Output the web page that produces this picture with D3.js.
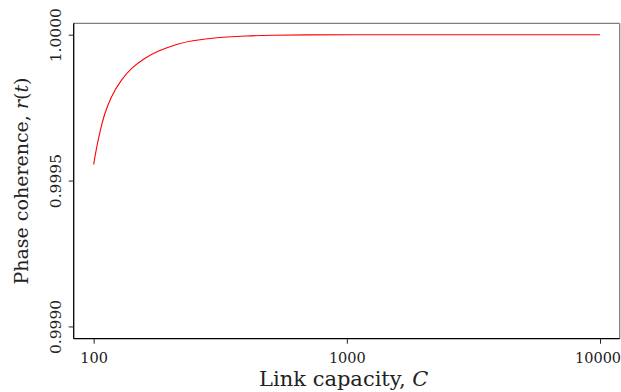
<!DOCTYPE html>
<html>
<head>
<meta charset="utf-8">
<script src="https://cdn.jsdelivr.net/npm/d3@7"></script>
<style>
  body { margin: 0; background: #fff; }
  svg { display: block; font-family: "DejaVu Serif", serif; }
</style>
</head>
<body>
<div id="chart"></div>
<script>
// values
var capacity  = [100, 102, 106, 110, 117, 129, 141, 159, 180, 215, 240, 316, 400, 500, 700, 1000, 2000, 5000, 10000];
var coherence = [0.999555, 0.999600, 0.999670, 0.999725, 0.999788, 0.999848, 0.999886, 0.999920,
                 0.999945, 0.999969, 0.999979, 0.9999915, 0.999996, 0.999998, 0.9999995,
                 1.0, 1.0, 1.0, 1.0];
var xTicks = [100, 1000, 10000];
var yTicks = [0.9990, 0.9995, 1.0000];

var width = 621, height = 392;
var plot = { left: 73.7, right: 619.7, top: 23.3, bottom: 338.7 };

var svg = d3.select("#chart")
    .append("svg")
    .attr("width", width)
    .attr("height", height);

var x = d3.scaleLog()
    .domain([83.4, 11960])
    .range([plot.left, plot.right]);

var y = d3.scaleLinear()
    .domain([0.998958, 1.000039])
    .range([plot.bottom, plot.top]);

var data = capacity.map(function(c, i) {
    return { c: c, r: coherence[i] };
});

// frame: top and right spines grey
svg.append("line")
    .attr("x1", plot.left).attr("x2", plot.right)
    .attr("y1", plot.top).attr("y2", plot.top)
    .attr("stroke", "#7f7f7f").attr("stroke-width", 1.3);
svg.append("line")
    .attr("x1", plot.right).attr("x2", plot.right)
    .attr("y1", plot.top).attr("y2", plot.bottom)
    .attr("stroke", "#7f7f7f").attr("stroke-width", 1.3);

// x axis
var xAxis = svg.append("g")
    .attr("transform", "translate(0," + plot.bottom + ")")
    .call(d3.axisBottom(x)
        .tickValues(xTicks)
        .tickFormat(d3.format("d"))
        .tickSize(5)
        .tickPadding(9));
xAxis.select(".domain").attr("stroke", "#000").attr("stroke-width", 1.3)
    .attr("d", "M" + plot.left + ",0H" + plot.right);
xAxis.selectAll(".tick line").attr("stroke", "#222");
xAxis.selectAll(".tick text")
    .attr("font-family", "DejaVu Serif")
    .attr("font-size", 14.5)
    .attr("fill", "#222")
    .attr("dx", function(d) { return d === 10000 ? -2.5 : 0; });

// y axis
var yAxis = svg.append("g")
    .attr("transform", "translate(" + plot.left + ",0)")
    .call(d3.axisLeft(y)
        .tickValues(yTicks)
        .tickFormat(d3.format(".4f"))
        .tickSize(5));
yAxis.select(".domain").attr("stroke", "#000").attr("stroke-width", 1.3)
    .attr("d", "M0," + plot.top + "V" + plot.bottom);
yAxis.selectAll(".tick line").attr("stroke", "#222");
yAxis.selectAll(".tick text")
    .attr("font-family", "DejaVu Serif")
    .attr("font-size", 15.5)
    .attr("fill", "#222")
    .attr("x", null).attr("dy", null)
    .attr("text-anchor", "middle")
    .attr("transform", "translate(-12.5,0) rotate(-90)");

// the curve
svg.append("path")
    .datum(data)
    .attr("fill", "none")
    .attr("stroke", "#ff0000")
    .attr("stroke-width", 1.1)
    .attr("d", d3.line()
        .x(function(d) { return x(d.c); })
        .y(function(d) { return y(d.r); })
        .curve(d3.curveBasis));

// axis labels
var xl = svg.append("text")
    .attr("x", (plot.left + plot.right) / 2 - 3)
    .attr("y", 386)
    .attr("text-anchor", "middle")
    .attr("font-size", 21)
    .attr("fill", "#222");
xl.append("tspan").text("Link capacity, ");
xl.append("tspan").attr("font-style", "italic").text("C");

var yl = svg.append("text")
    .attr("transform", "translate(28," + ((plot.top + plot.bottom) / 2) + ") rotate(-90)")
    .attr("text-anchor", "middle")
    .attr("font-size", 19)
    .attr("fill", "#222");
yl.append("tspan").text("Phase coherence, ");
yl.append("tspan").attr("font-style", "italic").text("r");
yl.append("tspan").text("(");
yl.append("tspan").attr("font-style", "italic").text("t");
yl.append("tspan").text(")");
</script>
</body>
</html>
